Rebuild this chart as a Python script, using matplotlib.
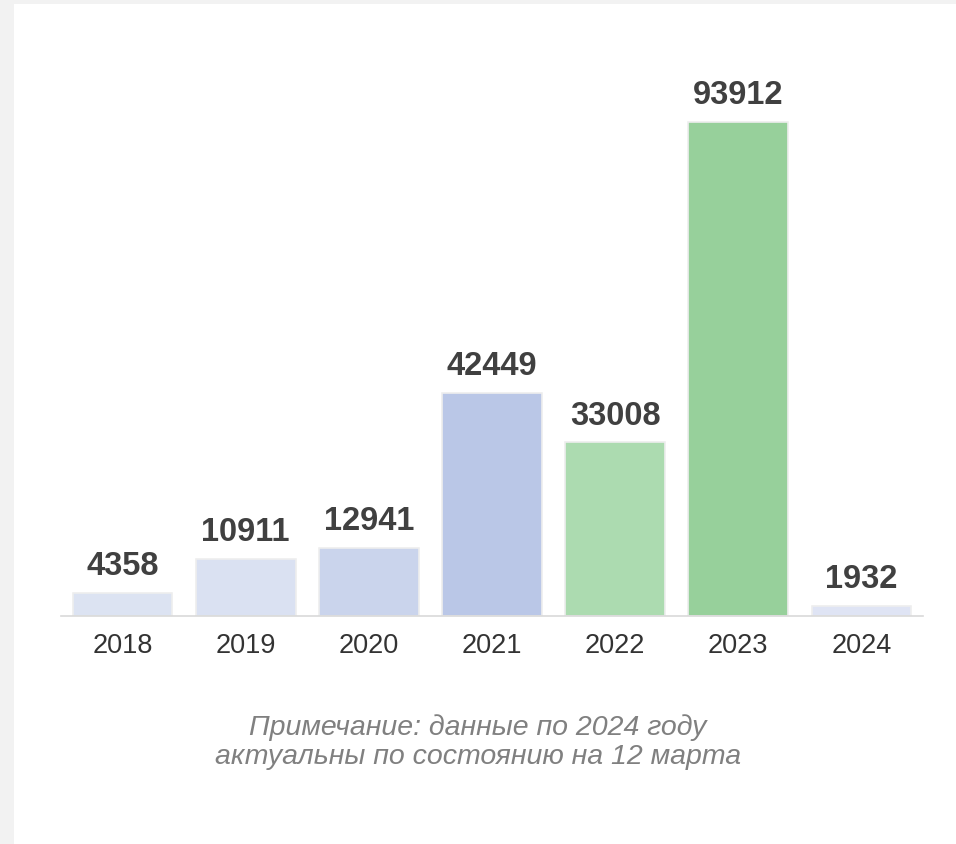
import matplotlib
matplotlib.use("Agg")
import matplotlib.pyplot as plt
from matplotlib.patches import Rectangle

years = ["2018", "2019", "2020", "2021", "2022", "2023", "2024"]
values = [4358, 10911, 12941, 42449, 33008, 93912, 1932]
colors = ["#dce3f2", "#dae1f2", "#cad4ec", "#bac7e7", "#acdbb0", "#97d09b", "#dfe4f4"]
note = "Примечание: данные по 2024 году\nактуальны по состоянию на 12 марта"

plt.rcParams['font.family'] = ['Liberation Sans', 'DejaVu Sans']

W, H = 956, 845
fig = plt.figure(figsize=(W / 100, H / 100), dpi=100, facecolor="#f2f2f2")
fig.patches.append(Rectangle((14 / W, 0), 1 - 14 / W, 1 - 5 / H,
                             transform=fig.transFigure, facecolor="white",
                             edgecolor="none", zorder=-5))

ax = fig.add_axes([61 / W, 1 - 617 / H, (923 - 61) / W, (617 - 40) / H])
ax.set_facecolor("none")
ax.set_zorder(2)
x = list(range(len(years)))
bars = ax.bar(x, values, width=0.81, color=colors, edgecolor="#eeeeee", linewidth=1.2)
for xi, v in zip(x, values):
    ax.annotate(str(v), (xi, v), xytext=(0, 13.5), textcoords="offset points",
                ha="center", va="baseline", fontsize=23.5, fontweight="bold", color="#404040")

ax.set_xlim(-0.5, len(years) - 0.5)
ax.set_ylim(0, 109700)
ax.set_xticks(x)
ax.set_xticklabels(years, fontsize=19.5, color="#333333")
ax.tick_params(axis="x", length=0, pad=11.5)
ax.set_yticks([])
for s in ["top", "left", "right"]:
    ax.spines[s].set_visible(False)
ax.spines["bottom"].set_color("#d9d9d9")
ax.spines["bottom"].set_linewidth(1.2)

fig.text(478 / W, 1 - 742 / H, note, ha="center", va="center", fontsize=20.5,
         style="italic", color="#808080", linespacing=1.13, zorder=3)

fig.savefig("out.png", dpi=100, facecolor=fig.get_facecolor())
